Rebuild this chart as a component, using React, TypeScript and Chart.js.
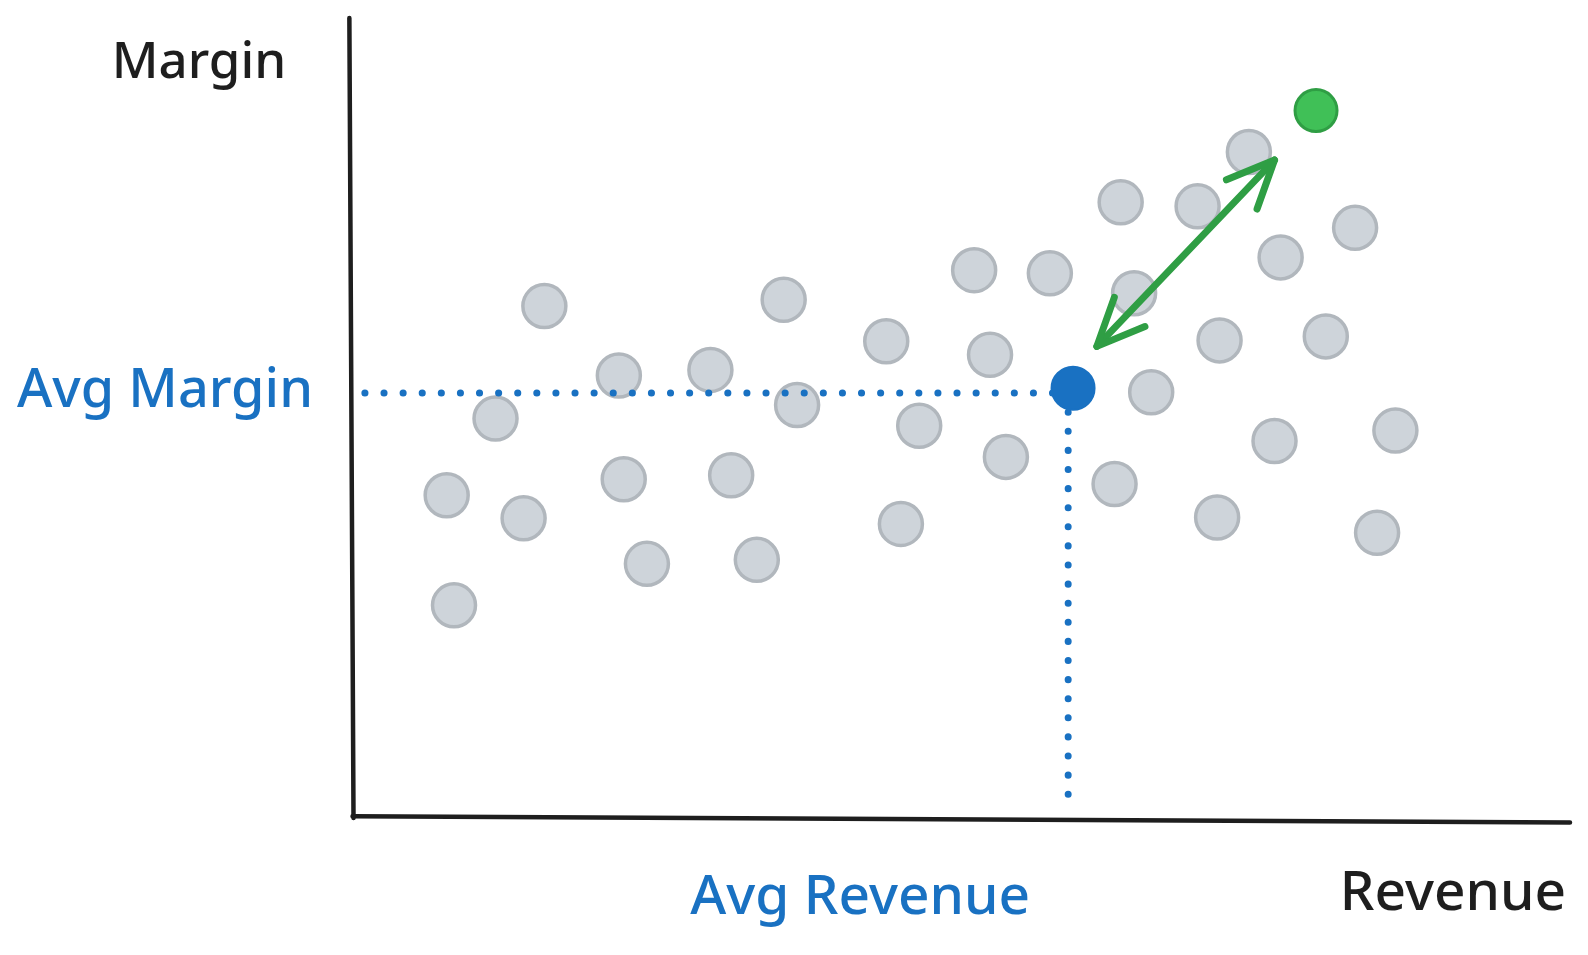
import React, { useEffect, useRef } from "react";
import { Chart, registerables } from "chart.js";

Chart.register(...registerables);

// Gray market points (revenue, margin) in 0-100 units
const grayRevenue = [16.0, 12.0, 8.0, 14.3, 8.6, 22.1, 22.5, 24.4, 29.6, 31.3, 33.4, 35.6, 36.7, 44.0, 46.7, 45.2, 51.2, 52.5, 53.8, 57.4, 63.2, 64.3, 65.7, 62.7, 69.5, 73.7, 71.3, 76.3, 75.8, 71.1, 82.4, 80.0, 85.7, 84.2];
const grayMargin = [63.9, 49.8, 40.2, 37.3, 26.4, 55.2, 42.2, 31.6, 55.9, 42.7, 32.1, 64.7, 51.5, 59.5, 48.9, 36.6, 68.4, 57.8, 45.0, 68.0, 76.9, 65.5, 53.1, 41.6, 76.4, 83.2, 59.6, 70.0, 47.0, 37.4, 73.7, 60.1, 48.3, 35.5];

// Average point and target point
const avgPoint = { revenue: 59.3, margin: 53.6 };
const targetPoint = { revenue: 79.2, margin: 88.4 };

// Average guide lines
const avgLineMargin = 53.0;
const avgLineRevenue = 58.9;
const avgLineRevenueStart = 1.3;
const avgLineMarginEnd = 2.0;

// Arrow endpoints (revenue, margin)
const arrowFrom = { revenue: 61.25, margin: 58.85 };
const arrowTo = { revenue: 75.8, margin: 82.2 };

// Axis lines (slightly hand-drawn)
const yAxisLine = [{ x: 0.03, y: 100 }, { x: 0.37, y: -0.25 }];
const xAxisLine = [{ x: 0.29, y: -0.04 }, { x: 100, y: -0.8 }];

// Labels
const labelTexts = ["Margin", "Avg Margin", "Avg Revenue", "Revenue"];

const BLACK = "#1e1e1e";
const BLUE = "#1971c2";
const GREEN = "#2f9e44";
const FONT = "'Noto Sans', sans-serif";

const labelPlugin = {
  id: "sketchLabels",
  afterDraw(chart: any) {
    const ctx = chart.ctx;
    const xs = chart.scales.x;
    const ys = chart.scales.y;
    ctx.save();
    ctx.textAlign = "center";
    ctx.textBaseline = "alphabetic";
    const left = xs.left;
    const bottom = ys.bottom;
    // Margin (y-axis title, top-left)
    ctx.font = `500 51px ${FONT}`;
    ctx.fillStyle = BLACK;
    ctx.fillText(labelTexts[0], left - 150, ys.top + 60);
    // Avg Margin
    ctx.font = `500 54px ${FONT}`;
    ctx.fillStyle = BLUE;
    ctx.fillText(labelTexts[1], left - 184, ys.getPixelForValue(avgLineMargin) + 14);
    // Avg Revenue
    ctx.font = `500 55px ${FONT}`;
    ctx.fillText(labelTexts[2], xs.getPixelForValue(avgLineRevenue) - 208, bottom + 98);
    // Revenue
    ctx.font = `500 55px ${FONT}`;
    ctx.fillStyle = BLACK;
    ctx.fillText(labelTexts[3], xs.right - 117, bottom + 94);

    // Arrow heads
    const x1 = xs.getPixelForValue(arrowFrom.revenue);
    const y1 = ys.getPixelForValue(arrowFrom.margin);
    const x2 = xs.getPixelForValue(arrowTo.revenue);
    const y2 = ys.getPixelForValue(arrowTo.margin);
    ctx.strokeStyle = GREEN;
    ctx.lineWidth = 7;
    ctx.lineCap = "round";
    ctx.lineJoin = "round";
    const head = (hx: number, hy: number, tx: number, ty: number) => {
      const ang = Math.atan2(ty - hy, tx - hx);
      const len = 52;
      const spread = (24 * Math.PI) / 180;
      ctx.beginPath();
      ctx.moveTo(hx + len * Math.cos(ang + spread), hy + len * Math.sin(ang + spread));
      ctx.lineTo(hx, hy);
      ctx.lineTo(hx + len * Math.cos(ang - spread), hy + len * Math.sin(ang - spread));
      ctx.stroke();
    };
    head(x2, y2, x1, y1);
    head(x1, y1, x2, y2);
    ctx.restore();
  },
};

export default function App() {
  const ref = useRef<HTMLCanvasElement | null>(null);
  useEffect(() => {
    if (!ref.current) return;
    const gray = grayRevenue.map((r, i) => ({ x: r, y: grayMargin[i] }));
    const chart = new Chart(ref.current, {
      type: "scatter",
      data: {
        datasets: [
          {
            label: "Avg",
            data: [{ x: avgPoint.revenue, y: avgPoint.margin }],
            backgroundColor: BLUE,
            borderColor: BLUE,
            borderWidth: 2,
            pointRadius: 21.5,
            order: 1,
          } as any,
          {
            label: "Target",
            data: [{ x: targetPoint.revenue, y: targetPoint.margin }],
            backgroundColor: "#40c057",
            borderColor: GREEN,
            borderWidth: 3,
            pointRadius: 21,
            order: 1,
          } as any,
          {
            label: "Arrow",
            data: [
              { x: arrowFrom.revenue, y: arrowFrom.margin },
              { x: arrowTo.revenue, y: arrowTo.margin },
            ],
            showLine: true,
            borderColor: GREEN,
            borderWidth: 7,
            borderCapStyle: "round",
            pointRadius: 0,
            order: 2,
          } as any,
          {
            label: "Avg margin line",
            data: [
              { x: avgLineRevenueStart, y: avgLineMargin },
              { x: avgLineRevenue, y: avgLineMargin },
            ],
            showLine: true,
            borderColor: BLUE,
            borderWidth: 7,
            borderDash: [0.1, 19],
            borderCapStyle: "round",
            pointRadius: 0,
            order: 3,
          } as any,
          {
            label: "Avg revenue line",
            data: [
              { x: avgLineRevenue, y: avgLineMargin },
              { x: avgLineRevenue, y: avgLineMarginEnd },
            ],
            showLine: true,
            borderColor: BLUE,
            borderWidth: 7,
            borderDash: [0.1, 19],
            borderCapStyle: "round",
            pointRadius: 0,
            order: 3,
          } as any,
          {
            label: "Others",
            data: gray,
            backgroundColor: "#ced4da",
            borderColor: "#b1b7bd",
            borderWidth: 3.5,
            pointRadius: 21.5,
            order: 4,
          } as any,
          {
            label: "Y axis",
            data: yAxisLine,
            showLine: true,
            borderColor: BLACK,
            borderWidth: 4.5,
            borderCapStyle: "round",
            pointRadius: 0,
            clip: false,
            order: 5,
          } as any,
          {
            label: "X axis",
            data: xAxisLine,
            showLine: true,
            borderColor: BLACK,
            borderWidth: 4.5,
            borderCapStyle: "round",
            pointRadius: 0,
            clip: false,
            order: 5,
          } as any,
        ],
      },
      options: {
        animation: false,
        responsive: true,
        maintainAspectRatio: false,
        layout: { autoPadding: false, padding: { left: 341, top: 10, right: 10, bottom: 131 } },
        scales: {
          x: { type: "linear", min: 0, max: 100, display: false },
          y: { type: "linear", min: 0, max: 100, display: false },
        },
        plugins: {
          legend: { display: false },
          tooltip: { enabled: false },
        },
      } as any,
      plugins: [labelPlugin],
    });
    return () => chart.destroy();
  }, []);
  return (
    <div style={{ position: "relative", width: "1572px", height: "939px" }}>
      <canvas ref={ref} />
    </div>
  );
}
